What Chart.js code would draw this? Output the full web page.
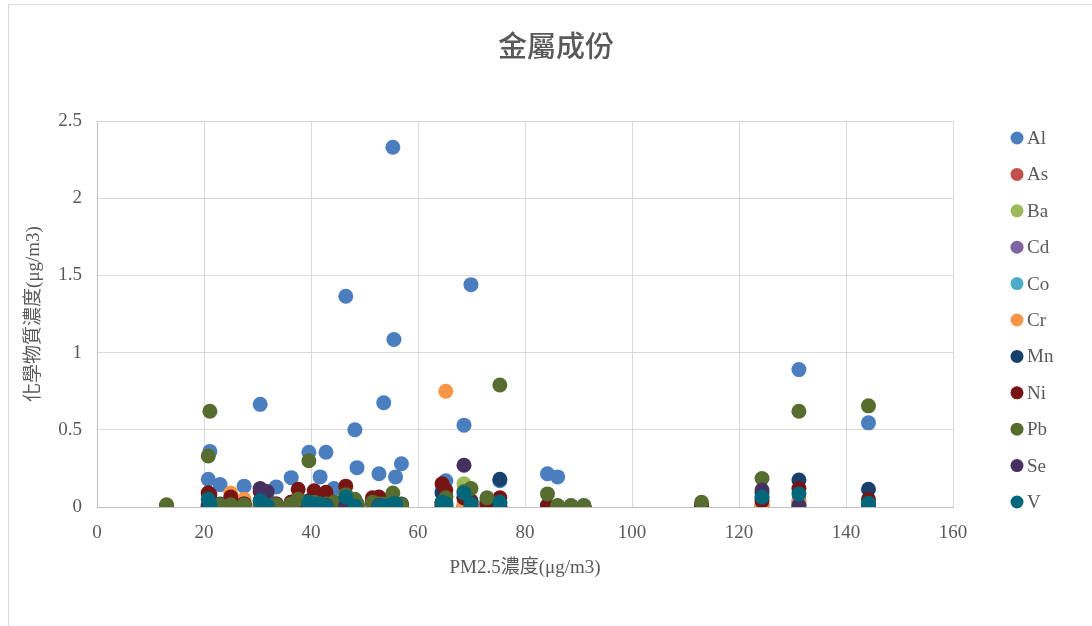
<!DOCTYPE html>
<html>
<head>
<meta charset="utf-8">
<title>金屬成份</title>
<script src="https://cdn.jsdelivr.net/npm/chart.js@4/dist/chart.umd.min.js"></script>
<style>
  html, body { margin: 0; padding: 0; background: #fff; }
  #wrap { position: relative; width: 1092px; height: 626px; overflow: hidden; }
  #frame { position: absolute; left: 8px; top: 4px; width: 1200px; height: 800px;
           border: 1px solid #d9d9d9; box-sizing: border-box; }
  #chart { position: absolute; left: 0; top: 0; }
</style>
</head>
<body>
<div id="wrap">
  <div id="frame"></div>
  <canvas id="chart" width="1092" height="626"></canvas>
</div>
<script>
// PM2.5 concentration of each sample (x)
const pm25 = [13, 20.8, 21.1, 23, 25, 27.5, 30.5, 31.8, 33.5, 36.3,
  37.6, 39.6, 40.6, 41.7, 42.8, 44.3, 46.5, 48.2, 48.6, 51.5,
  52.7, 53.6, 55.3, 55.5, 55.8, 56.9, 64.5, 65.2, 68.6, 69.9,
  72.9, 75.3, 84.2, 86.1, 88.6, 91, 113, 124.3, 131.2, 144.2];

// metal concentrations per sample (µg/m3), null = not measured
const al = [0.005, 0.18, 0.36, 0.145, 0.04, 0.135, 0.665, 0.06, 0.13, 0.19,
  0.06, 0.355, 0.05, 0.195, 0.355, 0.12, 1.365, 0.5, 0.255, 0.05,
  0.215, 0.675, 2.33, 1.085, 0.195, 0.28, 0.1, 0.17, 0.53, 1.44,
  0.04, 0.17, 0.215, 0.195, 0.01, 0.01, 0.005, 0.06, 0.89, 0.545];
const as = [0.002, 0.01, 0.005, 0.003, 0.01, 0.004, 0.005, 0.004, 0.003, 0.005,
  0.006, 0.004, 0.005, 0.004, 0.004, 0.003, 0.006, 0.004, 0.003, 0.005,
  0.006, 0.004, 0.005, 0.004, 0.003, 0.003, 0.006, 0.005, 0.004, 0.004,
  0.003, 0.005, 0.002, 0.002, 0.001, 0.001, 0.002, 0.003, 0.04, 0.004];
const ba = [0.005, 0.02, 0.015, 0.01, 0.015, 0.01, 0.02, 0.01, 0.01, 0.015,
  0.02, 0.02, 0.015, 0.01, 0.015, 0.01, 0.03, 0.02, 0.01, 0.015,
  0.02, 0.015, 0.02, 0.015, 0.01, 0.01, 0.02, 0.03, 0.15, 0.04,
  0.02, 0.03, 0.01, 0.005, 0.004, 0.004, 0.01, 0.02, 0.03, 0.02];
const cd = [0.001, 0.002, 0.001, 0.001, 0.002, 0.001, 0.002, 0.001, 0.001, 0.001,
  0.002, 0.001, 0.002, 0.001, 0.001, 0.001, 0.002, 0.001, 0.001, 0.001,
  0.002, 0.001, 0.002, 0.001, 0.001, 0.001, 0.002, 0.001, 0.001, 0.001,
  0.001, 0.001, 0.001, 0.001, 0.001, 0.001, 0.001, 0.001, 0.002, 0.001];
const co = [0.001, 0.002, 0.001, 0.001, 0.001, 0.001, 0.002, 0.001, 0.001, 0.001,
  0.001, 0.001, 0.001, 0.001, 0.001, 0.001, 0.002, 0.001, 0.001, 0.001,
  0.001, 0.001, 0.002, 0.001, 0.001, 0.001, 0.002, 0.001, 0.001, 0.001,
  0.001, 0.001, 0.001, 0.001, 0.001, 0.001, 0.001, 0.001, 0.002, 0.001];
const cr = [0.002, 0.02, 0.01, 0.01, 0.09, 0.05, 0.02, 0.01, 0.01, 0.03,
  0.06, 0.02, 0.03, 0.02, 0.02, 0.01, 0.04, 0.02, 0.01, 0.02,
  0.03, 0.04, 0.02, 0.015, 0.01, 0.01, 0.03, 0.75, 0.02, 0.01,
  0.01, 0.02, 0.004, 0.003, 0.002, 0.002, 0.003, 0.01, 0.02, 0.01];
const mn = [0.005, 0.09, 0.04, 0.02, 0.03, 0.02, 0.04, 0.02, 0.02, 0.03,
  0.04, 0.04, 0.03, 0.03, 0.03, 0.02, 0.05, 0.03, 0.02, 0.03,
  0.04, 0.03, 0.04, 0.03, 0.02, 0.02, 0.09, 0.07, 0.06, 0.04,
  0.03, 0.18, 0.01, 0.005, 0.004, 0.004, 0.01, 0.09, 0.175, 0.115];
const ni = [0.005, 0.09, 0.08, 0.01, 0.065, 0.02, 0.1, 0.01, 0.02, 0.03,
  0.115, 0.03, 0.105, 0.05, 0.095, 0.03, 0.135, 0.02, 0.01, 0.06,
  0.065, 0.03, 0.03, 0.02, 0.01, 0.01, 0.15, 0.11, 0.06, 0.03,
  0.02, 0.06, 0.005, 0.005, 0.003, 0.003, 0.005, 0.04, 0.12, 0.05];
const pb = [0.015, 0.33, 0.62, 0.015, 0.015, 0.015, 0.02, 0.02, 0.015, 0.02,
  0.05, 0.3, 0.03, 0.02, 0.02, 0.03, 0.08, 0.05, 0.02, 0.03,
  0.02, 0.02, 0.09, 0.03, 0.02, 0.015, 0.03, 0.06, 0.1, 0.12,
  0.06, 0.79, 0.085, 0.01, 0.008, 0.008, 0.03, 0.185, 0.62, 0.655];
const se = [null, 0.01, 0.005, null, null, null, 0.12, 0.1, null, null,
  null, 0.01, 0.01, 0.005, 0.01, null, 0.01, 0.005, null, null,
  0.01, 0.005, 0.01, 0.005, 0.004, null, 0.01, 0.01, 0.27, 0.01,
  null, 0.002, null, null, null, null, null, 0.11, 0.01, 0.01];
const v = [null, 0.05, 0.02, null, null, null, 0.04, 0.01, null, null,
  null, 0.03, 0.02, 0.02, 0.005, null, 0.065, 0.005, null, null,
  0.005, 0.01, 0.02, 0.02, 0.02, null, 0.03, 0.02, 0.09, 0.02,
  null, 0.03, null, null, null, null, null, 0.065, 0.085, 0.025];

const metals = ["Al", "As", "Ba", "Cd", "Co", "Cr", "Mn", "Ni", "Pb", "Se", "V"];
const metalValues = [al, as, ba, cd, co, cr, mn, ni, pb, se, v];
const colors = ["#4a7ebf", "#c0504d", "#9bbb59", "#8064a2", "#4bacc6", "#f79646",
  "#17416c", "#771414", "#576d2f", "#46305f", "#00677a"];

const xTicks = [0, 20, 40, 60, 80, 100, 120, 140, 160];
const yTicks = ["0", "0.5", "1", "1.5", "2", "2.5"];

const grey = "#595959";
const serif = "'Liberation Serif', 'Noto Sans CJK TC', serif";

const datasets = metals.map((name, i) => ({
  label: name,
  data: pm25.map((x, j) => ({ x: x, y: metalValues[i][j] }))
    .filter(p => p.y !== null),
  backgroundColor: colors[i],
  borderColor: colors[i],
  pointRadius: 7.5,
  pointBorderWidth: 0,
  order: metals.length - i   // later series sit on top
}));

// title and right-hand legend
const decor = {
  id: "decor",
  afterDraw(chart) {
    const ctx = chart.ctx;
    ctx.save();
    ctx.fillStyle = grey;
    ctx.textAlign = "center";
    ctx.textBaseline = "middle";
    ctx.font = "500 29px 'Noto Sans CJK TC'";
    ctx.fillText("金屬成份", 556, 46);

    ctx.font = "19px " + serif;
    ctx.textAlign = "left";
    metals.forEach((name, i) => {
      const y = 138 + i * 36.4;
      ctx.fillStyle = colors[i];
      ctx.beginPath();
      ctx.arc(1017, y, 6.5, 0, Math.PI * 2);
      ctx.fill();
      ctx.fillStyle = grey;
      ctx.fillText(name, 1027, y + 1);
    });
    ctx.restore();
  }
};

new Chart(document.getElementById("chart"), {
  type: "scatter",
  data: { datasets: datasets },
  options: {
    responsive: false,
    animation: false,
    layout: { padding: { top: 121, right: 139, left: 0, bottom: 0 } },
    plugins: {
      legend: { display: false },
      tooltip: { enabled: false }
    },
    scales: {
      x: {
        type: "linear",
        min: 0,
        max: 160,
        afterFit: s => { s.height = 119; },
        afterBuildTicks: s => { s.ticks = xTicks.map(t => ({ value: t })); },
        ticks: { color: grey, font: { family: serif, size: 19 }, padding: 15 },
        grid: { color: "#d9d9d9", drawTicks: false },
        border: { color: "#bfbfbf" },
        title: {
          display: true,
          text: "PM2.5濃度(μg/m3)",
          color: grey,
          font: { family: serif, size: 19 },
          padding: { top: 0, bottom: 47 }
        }
      },
      y: {
        min: 0,
        max: 2.5,
        afterFit: s => { s.width = 97; },
        afterBuildTicks: s => { s.ticks = yTicks.map(t => ({ value: Number(t) })); },
        ticks: {
          color: grey,
          font: { family: serif, size: 19 },
          padding: 15,
          callback: (val, idx) => yTicks[idx]
        },
        grid: { color: "#d9d9d9", drawTicks: false },
        border: { color: "#bfbfbf" },
        title: {
          display: true,
          text: "化學物質濃度(μg/m3)",
          color: grey,
          font: { family: serif, size: 19 },
          padding: { top: 23, bottom: 0 }
        }
      }
    }
  },
  plugins: [decor]
});
</script>
</body>
</html>
